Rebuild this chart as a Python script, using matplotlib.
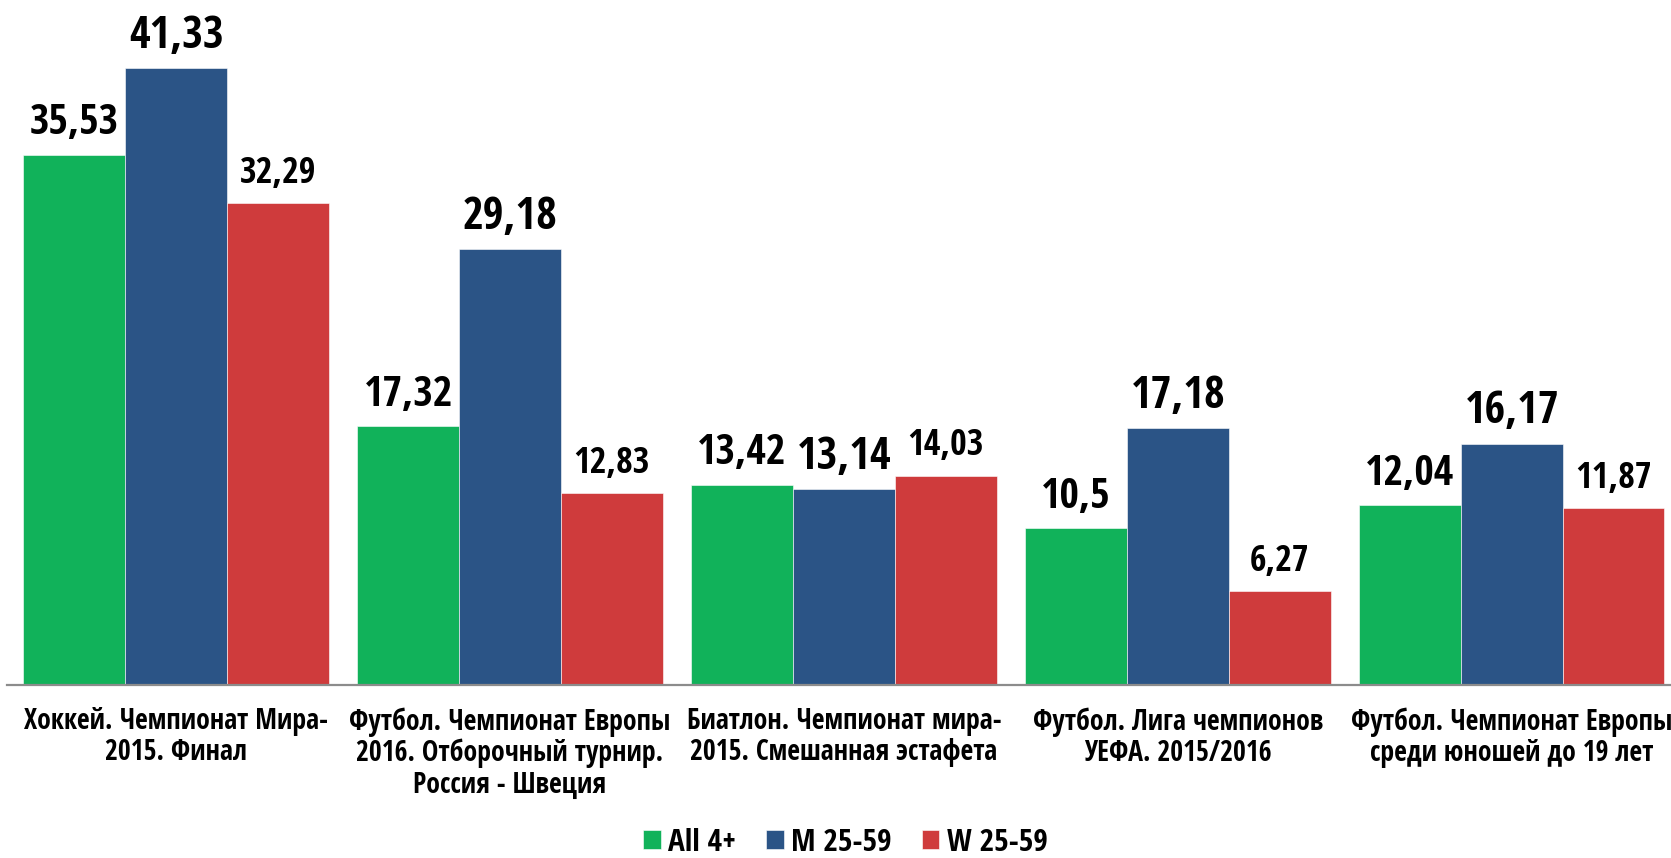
import os
import matplotlib
matplotlib.use("Agg")
import matplotlib.pyplot as plt
from matplotlib import font_manager as fm
from matplotlib.textpath import TextPath
from matplotlib.ft2font import FT2Font
import numpy as np

categories = [
    "Хоккей. Чемпионат Мира-\n2015. Финал",
    "Футбол. Чемпионат Европы\n2016. Отборочный турнир.\nРоссия - Швеция",
    "Биатлон. Чемпионат мира-\n2015. Смешанная эстафета",
    "Футбол. Лига чемпионов\nУЕФА. 2015/2016",
    "Футбол. Чемпионат Европы\nсреди юношей до 19 лет",
]
series_names = ["All 4+", "M 25-59", "W 25-59"]
all4 = [35.53, 17.32, 13.42, 10.5, 12.04]
m2559 = [41.33, 29.18, 13.14, 17.18, 16.17]
w2559 = [32.29, 12.83, 14.03, 6.27, 11.87]

colors = ["#11B25A", "#2B5486", "#CF3B3C"]

DPI = 100
ALLOWED = ("dejavu sans", "liberation sans", "noto sans", "roboto",
           "open sans", "lato", "inter")


def weight_num(wt):
    try:
        return int(wt)
    except (TypeError, ValueError):
        return {"bold": 700, "heavy": 800, "black": 900, "extra bold": 800,
                "semibold": 600, "demibold": 600}.get(str(wt), 400)


def width_token(base):
    for t in ("ultracondensed", "extracondensed", "semicondensed", "condensed",
              "narrow"):
        if t in base:
            return t
    return ""


def candidates():
    out = []
    seen = set()
    for f in fm.fontManager.ttflist:
        base = os.path.basename(f.fname).lower()
        fam = f.name.lower()
        if f.fname in seen:
            continue
        seen.add(f.fname)
        if not fam.startswith(ALLOWED):
            continue
        if "mono" in fam or "mono" in base or ("serif" in fam and "sans" not in fam):
            continue
        if f.style != "normal" or "italic" in base or "oblique" in base:
            continue
        wn = weight_num(f.weight)
        if wn < 700:
            continue
        try:
            ft = FT2Font(f.fname)
            cmap = ft.get_charmap()
            if ord("Ж") not in cmap or ord("й") not in cmap:
                continue
            prop = fm.FontProperties(fname=f.fname, size=100)
            ext = TextPath((0, 0), "35,53", prop=prop).get_extents()
            hx = TextPath((0, 0), "H", prop=prop).get_extents()
        except Exception:
            continue
        if ext.width <= 0:
            continue
        out.append((hx.height / ext.width, wn, f, base))
    return out


def pick_font():
    cands = candidates()
    if not cands:
        return None
    best = max(cands, key=lambda c: c[0])
    prefix = best[3].split("-")[0]
    tok = width_token(best[3])
    heavier = [c for c in cands
               if c[3].split("-")[0] == prefix and width_token(c[3]) == tok
               and c[1] <= 900 and c[0] >= 0.9 * best[0]]
    if heavier:
        best = max(heavier, key=lambda c: (c[1], c[0]))
    return best[2]


chosen = pick_font()


def fp(size):
    if chosen is not None:
        return fm.FontProperties(fname=chosen.fname, size=size)
    return fm.FontProperties(family=["DejaVu Sans"], weight="bold", size=size)


def ink_width_px(text, size):
    ext = TextPath((0, 0), text, prop=fp(100)).get_extents()
    return ext.width / 100 * size * DPI / 72


def size_for_width(text, target_px):
    return target_px / ink_width_px(text, 1.0)


# font sizes fitted to the widths of the reference texts
lbl_sizes = [size_for_width("35,53", 86), size_for_width("41,33", 92),
             size_for_width("32,29", 74)]
lines = [ln for c in categories for ln in c.split("\n")]
cat_size = min(size_for_width(ln, 318) for ln in lines)
leg_size = size_for_width("W 25-59", 99)

fig = plt.figure(figsize=(16.71, 8.58), dpi=DPI)
ax = fig.add_axes([7 / 1671, 173 / 858, 1 - 7 / 1671, 685 / 858])

x = np.arange(len(categories))
w = 0.305
series = [all4, m2559, w2559]
for i, (vals, col, name, fs) in enumerate(zip(series, colors, series_names, lbl_sizes)):
    pos = x + (i - 1) * w
    bars = ax.bar(pos, vals, width=w, color=col, label=name,
                  edgecolor="white", linewidth=0.4)
    for b, v in zip(bars, vals):
        txt = f"{v:g}".replace(".", ",")
        ax.annotate(txt, (b.get_x() + b.get_width() / 2, v),
                    xytext=(0, 14.5), textcoords="offset points",
                    ha="center", va="baseline", fontproperties=fp(fs),
                    color="black")

ax.set_xlim(-0.5066, 4.477)
ax.set_ylim(0, 45.88)
for s in ["top", "right", "left"]:
    ax.spines[s].set_visible(False)
ax.spines["bottom"].set_color("#8C8C8C")
ax.spines["bottom"].set_linewidth(1.6)
ax.set_yticks([])
ax.set_xticks(x)
ax.set_xticklabels(categories, fontproperties=fp(cat_size), linespacing=1.1)
ax.tick_params(axis="x", length=0, pad=16)

leg = fig.legend(loc="center", bbox_to_anchor=(0.506, 0.018), ncol=3,
                 frameon=False, prop=fp(leg_size),
                 handlelength=0.55, handleheight=0.55, handletextpad=0.25,
                 columnspacing=0.95, borderpad=0)

fig.savefig("out.png", dpi=DPI)
